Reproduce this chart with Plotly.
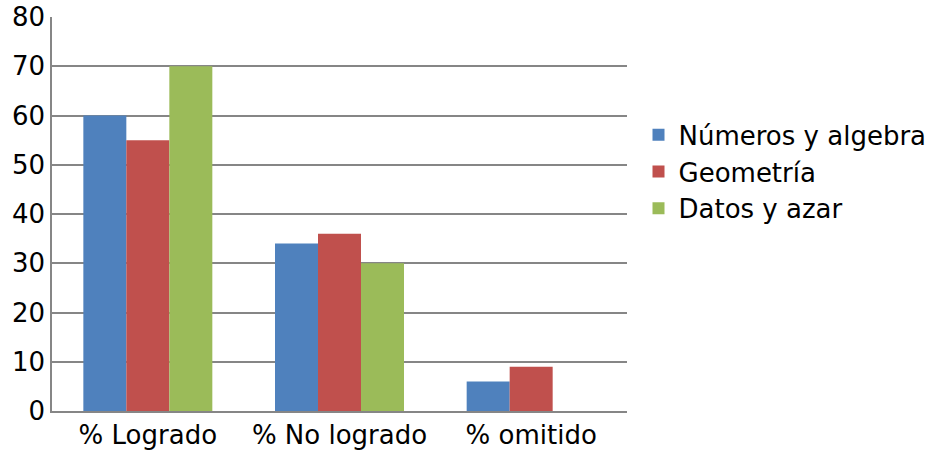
import plotly.graph_objects as go

categories = ["% Logrado", "% No logrado", "% omitido"]
numeros = [60, 34, 6]
geometria = [55, 36, 9]
datos = [70, 30, 0]

series_names = ["Números y algebra", "Geometría", "Datos y azar"]
colors = ["#4F81BD", "#C0504D", "#9BBB59"]

fig = go.Figure()
for name, vals, col in zip(series_names, [numeros, geometria, datos], colors):
    fig.add_trace(
        go.Bar(
            x=categories,
            y=vals,
            name=name,
            marker=dict(color=col, line=dict(width=0)),
        )
    )

fig.update_layout(
    width=928,
    height=450,
    barmode="group",
    bargap=0.327,
    bargroupgap=0,
    plot_bgcolor="white",
    paper_bgcolor="white",
    font=dict(family="DejaVu Sans", size=26, color="black"),
    margin=dict(l=52, r=301, t=17, b=39, autoexpand=False),
    showlegend=True,
    legend=dict(
        x=1.02,
        y=0.607,
        xanchor="left",
        yanchor="middle",
        font=dict(size=26),
        itemwidth=30,
        tracegroupgap=0,
    ),
    xaxis=dict(
        showline=True,
        linecolor="#868686",
        linewidth=2,
        ticks="",
        showgrid=False,
        automargin=False,
    ),
    yaxis=dict(
        range=[0, 80],
        dtick=10,
        showline=True,
        linecolor="#868686",
        linewidth=1.5,
        gridcolor="#868686",
        gridwidth=1.5,
        ticks="",
        zeroline=False,
        automargin=False,
    ),
)

# drop the default 8px body margin so the figure fills the window
fig.write_html(
    "out.html",
    config={"displayModeBar": False},
    post_script="document.body.style.margin='0';",
)
